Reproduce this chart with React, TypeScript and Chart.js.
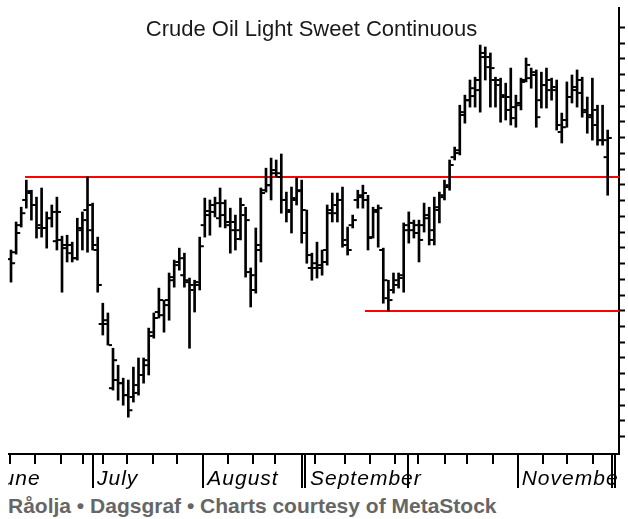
import React, { useEffect, useRef } from 'react';
import { Chart, registerables } from 'chart.js';

Chart.register(...registerables);

const chartTitle = 'Crude Oil Light Sweet Continuous';
const caption = 'Råolja • Dagsgraf • Charts courtesy of MetaStock';

// Daily OHLC (trading day index 0..117)
const highs = [
  30.93, 31.82, 32.29, 33.15, 32.83, 32.61, 32.90, 32.14, 32.36, 32.61,
  31.37, 31.40, 31.18, 31.94, 32.14, 33.25, 32.42, 31.34, 29.24, 28.93,
  27.81, 27.27, 26.86, 26.80, 27.21, 27.50, 27.50, 28.45, 28.93, 29.72,
  29.34, 30.20, 30.61, 30.99, 30.83, 30.04, 29.97, 31.34, 32.58, 32.52,
  32.61, 32.90, 32.52, 32.26, 32.04, 32.58, 32.29, 30.36, 31.63, 32.90,
  33.53, 33.85, 33.79, 33.98, 32.77, 32.93, 33.22, 33.15, 32.20, 30.83,
  31.18, 30.93, 32.36, 32.74, 32.74, 32.93, 31.66, 32.04, 32.83, 32.99,
  32.67, 32.29, 32.36, 30.99, 29.97, 30.20, 30.20, 31.79, 32.14, 31.88,
  31.88, 32.42, 32.29, 32.61, 32.77, 33.15, 33.79, 34.20, 35.53, 35.85,
  36.33, 36.42, 37.44, 37.38, 37.19, 36.42, 36.39, 36.23, 36.71, 35.85,
  36.39, 37.03, 36.71, 36.65, 36.58, 36.71, 36.39, 36.33, 35.28, 36.27,
  36.49, 36.65, 36.42, 35.79, 36.39, 35.53, 35.53, 34.74,
];
const lows = [
  29.91, 30.80, 31.66, 32.26, 31.88, 31.31, 31.34, 30.99, 31.66, 30.93,
  29.59, 30.55, 30.55, 30.61, 30.93, 30.86, 30.93, 29.59, 28.23, 27.91,
  26.48, 26.16, 26.00, 25.62, 26.10, 26.32, 26.70, 26.96, 28.13, 28.77,
  28.32, 28.70, 29.75, 30.29, 29.75, 27.81, 28.96, 29.66, 31.34, 31.40,
  31.98, 31.66, 31.63, 30.83, 30.93, 31.25, 30.07, 29.12, 29.56, 30.55,
  32.77, 32.52, 33.25, 32.10, 31.82, 31.47, 32.36, 31.15, 30.51, 29.97,
  30.04, 30.13, 30.45, 31.82, 31.82, 31.02, 30.77, 31.63, 32.26, 32.26,
  30.93, 31.31, 31.02, 29.24, 28.99, 29.56, 29.72, 29.59, 31.15, 31.31,
  30.55, 31.50, 31.09, 31.09, 31.79, 32.52, 32.83, 33.79, 33.95, 34.96,
  35.47, 35.47, 35.31, 36.33, 35.47, 35.47, 34.99, 35.06, 34.90, 34.83,
  35.38, 36.27, 36.07, 34.83, 35.44, 35.44, 35.69, 34.74, 34.33, 34.83,
  35.60, 35.47, 35.15, 34.64, 34.42, 34.26, 34.26, 32.67,
];
const opens = [
  30.64, 30.86, 31.72, 32.52, 32.74, 32.36, 31.72, 31.63, 31.94, 31.21,
  31.25, 31.09, 30.83, 30.67, 31.56, 32.20, 31.56, 30.93, 28.58, 28.70,
  26.54, 26.80, 26.70, 26.32, 26.26, 26.39, 26.96, 27.27, 28.20, 28.96,
  28.86, 29.34, 30.07, 30.55, 30.13, 29.91, 29.66, 29.82, 31.72, 32.04,
  32.36, 31.94, 32.04, 31.72, 31.56, 31.56, 32.04, 30.23, 29.66, 30.93,
  32.83, 32.99, 33.47, 33.25, 32.52, 32.20, 32.52, 32.83, 31.47, 30.36,
  30.51, 30.36, 30.93, 32.20, 32.36, 32.52, 31.09, 31.72, 32.52, 32.67,
  32.52, 31.34, 32.14, 30.93, 29.40, 29.66, 29.82, 30.13, 31.56, 31.56,
  31.47, 31.72, 32.04, 31.56, 32.20, 32.67, 32.99, 33.88, 34.10, 35.22,
  35.69, 35.82, 36.01, 37.06, 36.74, 36.33, 36.17, 35.85, 35.38, 35.47,
  35.53, 36.33, 36.39, 36.49, 35.69, 36.17, 36.01, 36.01, 34.68, 35.06,
  35.79, 36.11, 35.92, 35.38, 35.22, 34.90, 34.42, 33.88,
];
const closes = [
  30.51, 31.47, 32.10, 32.80, 32.36, 31.63, 31.63, 31.94, 32.14, 32.14,
  30.99, 31.09, 30.67, 31.63, 31.88, 32.36, 31.09, 29.82, 28.58, 27.91,
  27.43, 26.70, 26.32, 25.84, 26.64, 26.96, 27.43, 28.32, 28.77, 29.34,
  29.18, 29.97, 30.45, 30.67, 29.97, 29.82, 29.91, 31.05, 32.17, 32.14,
  32.42, 32.42, 31.82, 31.82, 31.28, 32.36, 31.88, 30.13, 31.09, 32.74,
  32.99, 33.37, 33.37, 32.52, 32.14, 32.58, 32.80, 32.20, 30.77, 30.36,
  30.45, 30.55, 32.10, 32.10, 32.52, 31.25, 30.93, 31.88, 32.61, 32.74,
  31.31, 32.20, 32.26, 29.97, 29.34, 29.97, 30.04, 31.72, 31.79, 31.72,
  31.25, 31.94, 31.25, 32.29, 32.61, 32.93, 33.63, 34.01, 35.31, 35.69,
  36.07, 36.33, 37.19, 37.06, 36.71, 36.33, 35.79, 35.79, 35.12, 35.60,
  36.27, 36.81, 36.58, 35.15, 36.17, 36.33, 36.11, 34.90, 34.83, 35.79,
  36.01, 36.33, 35.31, 35.15, 35.38, 34.42, 34.42, 34.49,
];

// Horizontal support / resistance lines (price, starting day index)
const resistanceLevel = 33.25;
const resistanceFrom = 2.75;
const supportLevel = 28.99;
const supportFrom = 69.4;

// Time axis marks (in trading-day index units)
const weekTicks = [
  -0.2, 4.7, 9.8, 14.2, 18.1, 22.7, 27.8, 32.5, 42.5, 47.5, 51.8, 59.6,
  65.5, 70.4, 75.3, 79.9, 85.1, 89.4, 94.6, 104.4, 109.0, 114.2,
];
const monthTicks = [16.1, 37.7, 57.1, 57.7, 77.9, 99.5, 117.8, 118.4];
const monthLabels = ['June', 'July', 'August', 'September', 'November'];
const monthLabelPos = [-3.92, 16.86, 38.49, 58.63, 100.14];

// Price axis
const priceMin = 24.482;
const priceMax = 38.618;
const priceTickStep = 0.5;
const priceTickFirst = 25;
const priceTickLast = 38.5;
const dayMin = -0.59;
const dayMax = 119.22;

const FONT = '"Liberation Sans", Arial, Helvetica, sans-serif';

const axisPlugin = {
  id: 'metastockAxis',
  afterDraw(chart: any) {
    const ctx = chart.ctx;
    const xs = chart.scales.x;
    const { left, right, bottom } = chart.chartArea;
    const axisY = bottom + 1;
    ctx.save();
    ctx.strokeStyle = '#000';
    ctx.lineWidth = 2;
    ctx.beginPath();
    ctx.moveTo(left, axisY);
    ctx.lineTo(right + 1, axisY);
    ctx.stroke();
    weekTicks.forEach((v) => {
      const px = Math.round(xs.getPixelForValue(v));
      ctx.beginPath();
      ctx.moveTo(px, axisY);
      ctx.lineTo(px, axisY + 10);
      ctx.stroke();
    });
    monthTicks.forEach((v) => {
      const px = Math.round(xs.getPixelForValue(v));
      ctx.beginPath();
      ctx.moveTo(px, axisY);
      ctx.lineTo(px, axisY + 34);
      ctx.stroke();
    });
    ctx.beginPath();
    ctx.rect(0, axisY + 2, right, 40);
    ctx.clip();
    ctx.fillStyle = '#000';
    ctx.font = 'italic 21px ' + FONT;
    (ctx as any).letterSpacing = '1px';
    ctx.textAlign = 'left';
    ctx.textBaseline = 'alphabetic';
    monthLabels.forEach((lab, i) => {
      ctx.fillText(lab, xs.getPixelForValue(monthLabelPos[i]), 485);
    });
    ctx.restore();

    ctx.save();
    ctx.fillStyle = '#1a1a1a';
    ctx.font = '22px ' + FONT;
    ctx.textAlign = 'center';
    ctx.textBaseline = 'alphabetic';
    ctx.fillText(chartTitle, (left + right) / 2 - 2, 36);
    ctx.restore();
  },
};

function OhlcChart() {
  const ref = useRef<HTMLCanvasElement | null>(null);
  useEffect(() => {
    if (!ref.current) return;
    const n = highs.length;
    const idx = Array.from({ length: n }, (_, i) => i);
    const tickOffset = 0.49;
    const chart = new Chart(ref.current, {
      type: 'bar',
      data: {
        datasets: [
          {
            type: 'bar',
            data: idx.map((i) => ({ x: i, y: [lows[i], highs[i]] })) as any,
            backgroundColor: '#000',
            borderWidth: 0,
            barThickness: 2,
            order: 0,
          } as any,
          {
            type: 'line',
            data: idx.map((i) => ({ x: i - tickOffset, y: opens[i] })),
            showLine: false,
            pointStyle: 'line',
            pointRadius: 1.6,
            pointBorderWidth: 2,
            pointBorderColor: '#000',
            pointBackgroundColor: '#000',
            order: 0,
          } as any,
          {
            type: 'line',
            data: idx.map((i) => ({ x: i + tickOffset, y: closes[i] })),
            showLine: false,
            pointStyle: 'line',
            pointRadius: 1.6,
            pointBorderWidth: 2,
            pointBorderColor: '#000',
            pointBackgroundColor: '#000',
            order: 0,
          } as any,
          {
            type: 'line',
            data: [
              { x: resistanceFrom, y: resistanceLevel },
              { x: dayMax, y: resistanceLevel },
            ],
            borderColor: '#ff0000',
            borderWidth: 2,
            pointRadius: 0,
            order: 5,
          } as any,
          {
            type: 'line',
            data: [
              { x: supportFrom, y: supportLevel },
              { x: dayMax, y: supportLevel },
            ],
            borderColor: '#ff0000',
            borderWidth: 2,
            pointRadius: 0,
            order: 5,
          } as any,
        ],
      },
      options: {
        animation: false,
        responsive: false,
        devicePixelRatio: 1,
        events: [],
        layout: { autoPadding: false, padding: { top: 8, bottom: 39, left: 0, right: 0 } },
        plugins: {
          legend: { display: false },
          tooltip: { enabled: false },
          title: { display: false },
        },
        scales: {
          x: {
            type: 'linear',
            min: dayMin,
            max: dayMax,
            offset: false,
            display: false,
          },
          y: {
            type: 'linear',
            position: 'right',
            min: priceMin,
            max: priceMax,
            ticks: { display: false, stepSize: priceTickStep },
            afterBuildTicks: (s: any) => {
              s.ticks = s.ticks.filter(
                (t: any) => t.value >= priceTickFirst - 1e-6 && t.value <= priceTickLast + 1e-6
              );
            },
            afterFit: (s: any) => {
              s.width = 9;
            },
            grid: {
              drawOnChartArea: false,
              drawTicks: true,
              tickLength: 6,
              tickWidth: 2,
              tickColor: '#000',
            },
            border: { display: true, color: '#000', width: 2 },
          },
        } as any,
      },
      plugins: [axisPlugin],
    });
    return () => chart.destroy();
  }, []);
  return <canvas ref={ref} width={620} height={492} />;
}

export default function App() {
  return (
    <div style={{ position: 'absolute', left: 0, top: 0, width: 628, height: 519, overflow: 'hidden', background: '#fff' }}>
      <div style={{ position: 'absolute', left: 8, top: 0, width: 620, height: 492 }}>
        <OhlcChart />
      </div>
      <div
        style={{
          position: 'absolute',
          left: 8,
          top: 494,
          font: 'bold 21px ' + FONT,
          lineHeight: '24px',
          color: '#666666',
          whiteSpace: 'nowrap',
        }}
      >
        {caption}
      </div>
    </div>
  );
}
